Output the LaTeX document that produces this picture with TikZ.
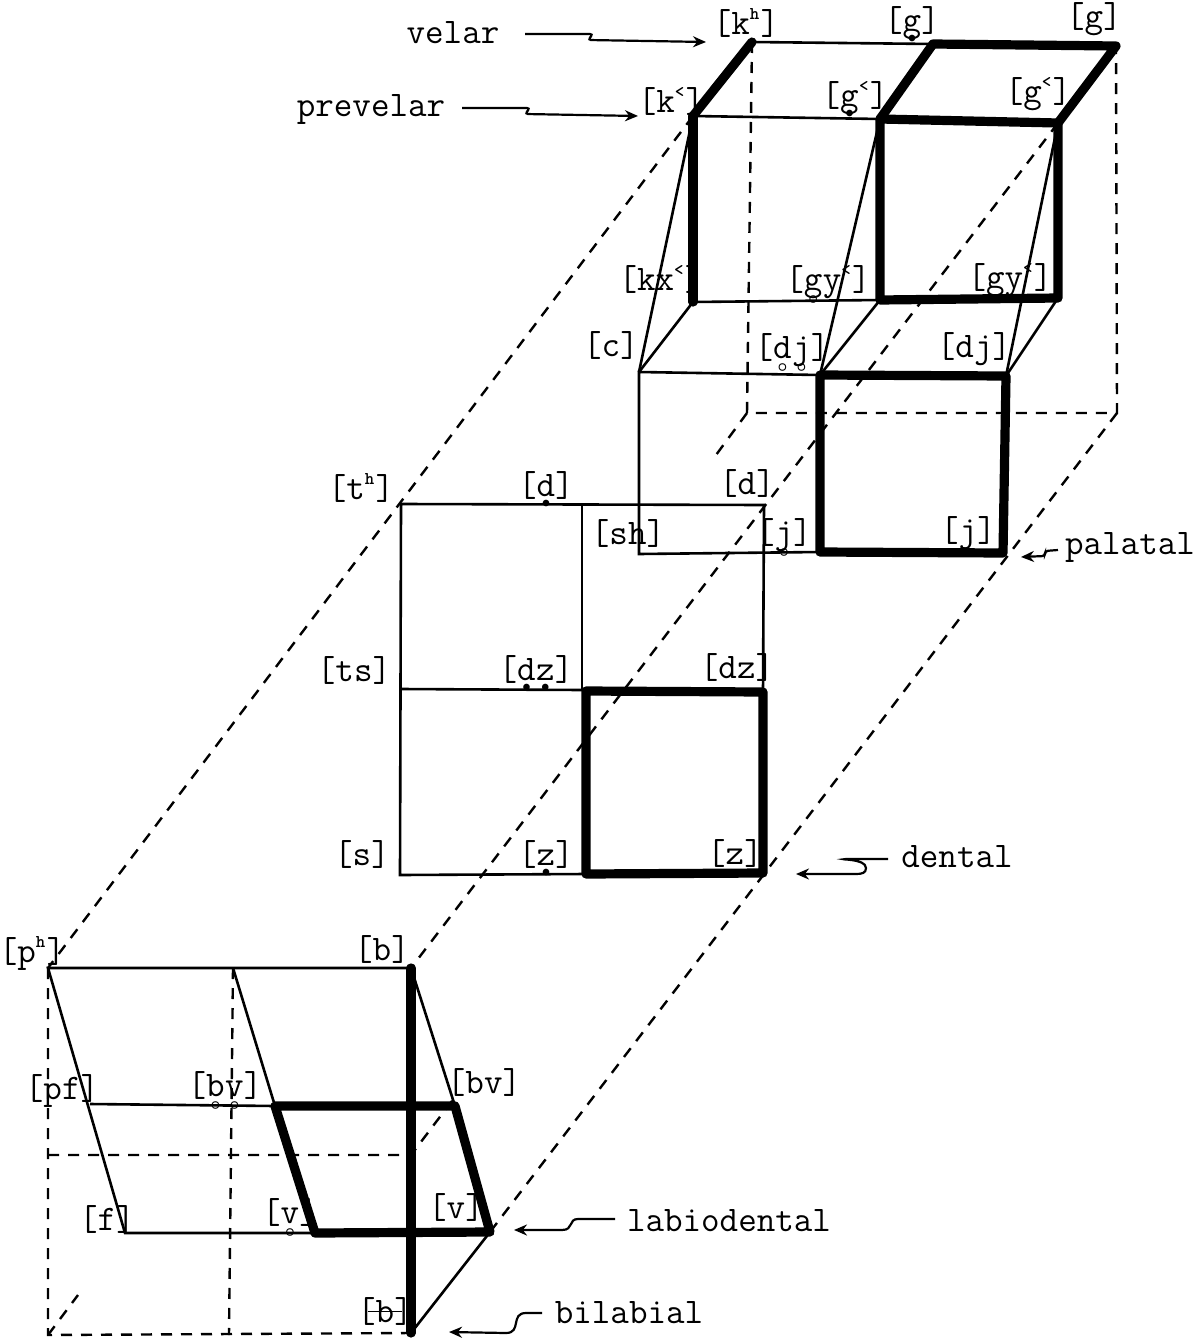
\documentclass[tikz,border=0pt]{standalone}
\usepackage{tikz}
\usetikzlibrary{arrows.meta}

% marks typed under or after a letter
\newcommand{\dotu}[1]{\makebox[0pt][l]{#1}\makebox[.525em]{\raisebox{-5.6pt}{\smash{\fontsize{8}{8}\selectfont$\bullet$}}}}
\newcommand{\ringu}[1]{\makebox[0pt][l]{#1}\makebox[.525em]{\raisebox{-6.6pt}{\smash{\fontsize{8}{8}\selectfont\boldmath$\circ$}}}}
\newcommand{\supm}[1]{\makebox[.3em][l]{\raisebox{.42em}{\smash{\fontsize{9}{9}\selectfont\bfseries #1}}}}
\newcommand{\strikeb}{\makebox[0pt][l]{b}\makebox[.525em]{\rule[.28em]{.95em}{.8pt}}}

\tikzset{
    plainedge/.style={line width=1.3pt},
    heavyedge/.style={line width=4.6pt, line cap=round, line join=round},
    hiddenedge/.style={line width=1.2pt, dash pattern=on 5.5pt off 4.5pt},
    pointer/.style={line width=1.1pt, -{Stealth[length=6.5pt, width=5.5pt]}, rounded corners=1.5pt},
    sound/.style={inner sep=0pt, text height=12.5pt, text depth=4pt, font=\ttfamily\fontsize{18}{20}\selectfont},
    place/.style={inner sep=0pt, font=\ttfamily\fontsize{18}{20}\selectfont}
}

\begin{document}
\begin{tikzpicture}[x=0.5pt, y=-0.5pt]
    \useasboundingbox (0,0) rectangle (1202,1338);

    % Corners of the velar and prevelar planes
    \coordinate (velA) at (752,42);
    \coordinate (velB) at (933,44);
    \coordinate (velC) at (1116,46);
    \coordinate (preA) at (693,116);
    \coordinate (preB) at (880,119);
    \coordinate (preC) at (1058,123);
    \coordinate (fricA) at (693,302);
    \coordinate (fricB) at (880,300);
    \coordinate (fricC) at (1058,298);

    % Corners of the palatal plane
    \coordinate (palA) at (639,372);
    \coordinate (palB) at (820,375);
    \coordinate (palC) at (1006,376);
    \coordinate (palD) at (639,554);
    \coordinate (palE) at (820,552);
    \coordinate (palF) at (1003,553);

    % Corners of the dental plane
    \coordinate (denA) at (401,504);
    \coordinate (denB) at (582,504);
    \coordinate (denC) at (764,505);
    \coordinate (denD) at (401,689);
    \coordinate (denJ) at (582,690);
    \coordinate (denE) at (586,691);
    \coordinate (denF) at (763,692);
    \coordinate (denG) at (400,875);
    \coordinate (denH) at (586,874);
    \coordinate (denI) at (763,873);

    % Corners of the labiodental and bilabial planes
    \coordinate (bilA) at (48,968);
    \coordinate (bilB) at (233,968);
    \coordinate (bilC) at (411,968);
    \coordinate (labA) at (90,1104);
    \coordinate (labB) at (275,1106);
    \coordinate (labC) at (455,1106);
    \coordinate (labD) at (125,1233);
    \coordinate (labE) at (315,1233);
    \coordinate (labF) at (490,1232);
    \coordinate (bilD) at (48,1155);
    \coordinate (bilE) at (411,1155);
    \coordinate (bilF) at (48,1335);
    \coordinate (bilG) at (229,1335);
    \coordinate (bilH) at (411,1333);

    % Hidden back corners and stubs
    \coordinate (backA) at (747,413);
    \coordinate (backB) at (1117,413);
    \coordinate (stubA) at (716,455);
    \coordinate (stubB) at (78,1295);
    \coordinate (stubC) at (455,1097);

    % Hidden edges
    \draw[hiddenedge] (velA) -- (backA) -- (backB) -- (velC);
    \draw[hiddenedge] (backA) -- (stubA);
    \draw[hiddenedge] (preA) -- (bilA);
    \draw[hiddenedge] (preC) -- (bilC);
    \draw[hiddenedge] (backB) -- (labF);
    \draw[hiddenedge] (bilA) -- (bilF) -- (bilH);
    \draw[hiddenedge] (bilB) -- (bilG);
    \draw[hiddenedge] (bilD) -- (bilE) -- (stubC);
    \draw[hiddenedge] (bilF) -- (stubB);

    % Thin edges
    \draw[plainedge] (velA) -- (velB);
    \draw[plainedge] (preA) -- (preB);
    \draw[plainedge] (fricA) -- (fricB);
    \draw[plainedge] (palA) -- (preA);
    \draw[plainedge] (palB) -- (preB);
    \draw[plainedge] (palC) -- (preC);
    \draw[plainedge] (palA) -- (fricA);
    \draw[plainedge] (palB) -- (fricB);
    \draw[plainedge] (palC) -- (fricC);
    \draw[plainedge] (palE) -- (palD) -- (palA) -- (palB);
    \draw[plainedge] (denD) -- (denJ);
    \draw[plainedge] (denH) -- (denG) -- (denA) -- (denC) -- (denF);
    \draw[plainedge] (denB) -- (denJ);
    \draw[plainedge] (labE) -- (labD) -- (bilA) -- (bilC) -- (labC);
    \draw[plainedge] (labA) -- (labB) -- (bilB);
    \draw[plainedge] (labF) -- (bilH);

    % Heavy edges
    \draw[heavyedge] (preA) -- (velA);
    \draw[heavyedge] (preB) -- (velB) -- (velC) -- (preC);
    \draw[heavyedge] (fricA) -- (preA);
    \draw[heavyedge] (fricC) -- (fricB) -- (preB) -- (preC) -- (fricC);
    \draw[heavyedge] (palE) -- (palB) -- (palC) -- (palF) -- cycle;
    \draw[heavyedge] (denH) -- (denE) -- (denF) -- (denI) -- cycle;
    \draw[heavyedge] (labE) -- (labB) -- (labC) -- (labF) -- cycle;
    \draw[heavyedge] (bilC) -- (bilH);

    % Sounds on the velar and prevelar planes
    \node[sound] (kh) at (746,26) {[k\supm{h}]};
    \node[sound] (gvelA) at (912,23) {[\dotu{g}]};
    \node[sound] (gvelB) at (1094,19) {[g]};
    \node[sound] (kpre) at (671,104) {[k\supm{<}]};
    \node[sound] (gpreA) at (855,98) {[\dotu{g}\supm{<}]};
    \node[sound] (gpreB) at (1038,94) {[g\supm{<}]};
    \node[sound] (kx) at (661,282) {[kx\supm{<}]};
    \node[sound] (gyA) at (828,282) {[\ringu{g}y\supm{<}]};
    \node[sound] (gyB) at (1010,280) {[gy\supm{<}]};

    % Sounds on the palatal plane
    \node[sound] (c) at (611,348) {[c]};
    \node[sound] (djA) at (792,350) {[\ringu{d}\ringu{j}]};
    \node[sound] (djB) at (974,349) {[dj]};
    \node[sound] (sh) at (628,536) {[sh]};
    \node[sound] (jA) at (784,535) {[\ringu{j}]};
    \node[sound] (jB) at (968,533) {[j]};

    % Sounds on the dental plane
    \node[sound] (th) at (361,491) {[t\supm{h}]};
    \node[sound] (dA) at (546,488) {[\dotu{d}]};
    \node[sound] (dB) at (747,486) {[d]};
    \node[sound] (ts) at (354,673) {[ts]};
    \node[sound] (dzA) at (536,672) {[\dotu{d}\dotu{z}]};
    \node[sound] (dzB) at (737,670) {[dz]};
    \node[sound] (s) at (362,857) {[s]};
    \node[sound] (zA) at (546,857) {[\dotu{z}]};
    \node[sound] (zB) at (735,856) {[z]};

    % Sounds on the labiodental and bilabial planes
    \node[sound] (ph) at (32,954) {[p\supm{h}]};
    \node[sound] (bA) at (382,952) {[b]};
    \node[sound] (pf) at (62,1091) {[pf]};
    \node[sound] (bvA) at (225,1088) {[\ringu{b}\ringu{v}]};
    \node[sound] (bvB) at (484,1085) {[bv]};
    \node[sound] (f) at (107,1222) {[f]};
    \node[sound] (vA) at (290,1215) {[\ringu{v}]};
    \node[sound] (vB) at (456,1210) {[v]};
    \node[sound] (bB) at (385,1314) {[\strikeb]};

    % Names of the places
    \node[place] (velar) at (453,33) {velar};
    \node[place] (prevelar) at (371,109) {prevelar};
    \node[place] (palatal) at (1130,547) {palatal};
    \node[place] (dental) at (957,857) {dental};
    \node[place] (labiodental) at (729,1221) {labiodental};
    \node[place] (bilabial) at (629,1313) {bilabial};

    % Wavy pointers
    \coordinate (tipVelar) at (706,42);
    \coordinate (tipPrevelar) at (638,116);
    \coordinate (tipPalatal) at (1021,557);
    \coordinate (tipDental) at (796,874);
    \coordinate (tipLabio) at (514,1230);
    \coordinate (tipBilabial) at (449,1332);
    \draw[pointer] (525,34) -- (593,34) -- (588,40) -- (tipVelar);
    \draw[pointer] (462,108) -- (530,108) -- (525,114) -- (tipPrevelar);
    \draw[pointer] (1058,550) -- (1045,551) -- (1045,556) -- (tipPalatal);
    \draw[pointer, rounded corners=0pt] (888,859) -- (846,859) .. controls (836,860) and (866,858) .. (866,868) .. controls (866,873) and (862,874) .. (856,874) -- (tipDental);
    \draw[pointer, rounded corners=0pt] (615,1219) -- (578,1219) .. controls (568,1219) and (574,1230) .. (562,1230) -- (tipLabio);
    \draw[pointer, rounded corners=0pt] (542,1313) -- (526,1313) .. controls (510,1313) and (522,1333) .. (506,1333) -- (tipBilabial);
\end{tikzpicture}
\end{document}
